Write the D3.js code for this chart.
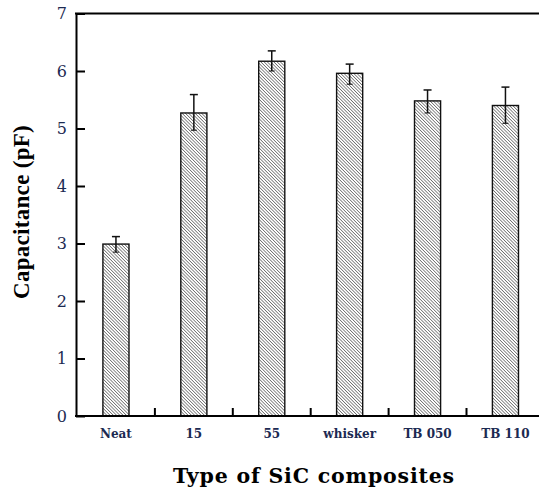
<!DOCTYPE html>
<html>
<head>
<meta charset="utf-8">
<script src="https://cdn.jsdelivr.net/npm/d3@7"></script>
<style>
  html, body { margin: 0; padding: 0; background: #fff; }
  svg { display: block; }
</style>
</head>
<body>
<svg id="chart" width="539" height="491"></svg>
<script>
// Capacitance of SiC composite types, mean with error range
const categories = ["Neat", "15", "55", "whisker", "TB 050", "TB 110"];
const capacitance = [2.99, 5.27, 6.17, 5.96, 5.48, 5.40];
const errLow = [2.85, 4.97, 6.00, 5.77, 5.27, 5.09];
const errHigh = [3.12, 5.59, 6.35, 6.12, 5.67, 5.72];
const yTicks = [0, 1, 2, 3, 4, 5, 6, 7];

const svg = d3.select("#chart");
const plotLeft = 76, plotTop = 13.5, plotBottom = 416, step = 77.9;

const x = d3.scaleBand()
  .domain(categories)
  .range([plotLeft + 1, plotLeft + 1 + step * categories.length])
  .paddingInner(0.665)
  .paddingOuter(0.3325);

const y = d3.scaleLinear().domain([0, 7]).range([plotBottom, plotTop]);

// diagonal hatch fill
const defs = svg.append("defs");
const pat = defs.append("pattern")
  .attr("id", "hatch")
  .attr("patternUnits", "userSpaceOnUse")
  .attr("width", 2.3).attr("height", 2.3)
  .attr("patternTransform", "rotate(-45)");
pat.append("rect").attr("width", 2.3).attr("height", 2.3).attr("fill", "#fff");
pat.append("line")
  .attr("x1", 0).attr("y1", 0).attr("x2", 0).attr("y2", 2.3)
  .attr("stroke", "#333").attr("stroke-width", 1.1);

// bars
svg.append("g").selectAll("rect")
  .data(categories)
  .join("rect")
  .attr("x", d => x(d))
  .attr("y", (d, i) => y(capacitance[i]))
  .attr("width", x.bandwidth())
  .attr("height", (d, i) => y(0) - y(capacitance[i]))
  .attr("fill", "url(#hatch)")
  .attr("stroke", "#111")
  .attr("stroke-width", 1.4);

// error bars
const eb = svg.append("g").attr("stroke", "#111").attr("stroke-width", 1.5);
categories.forEach((c, i) => {
  const cx = x(c) + x.bandwidth() / 2;
  eb.append("line").attr("x1", cx).attr("x2", cx)
    .attr("y1", y(errLow[i])).attr("y2", y(errHigh[i]));
  eb.append("line").attr("x1", cx - 4).attr("x2", cx + 4)
    .attr("y1", y(errHigh[i])).attr("y2", y(errHigh[i]));
  eb.append("line").attr("x1", cx - 3).attr("x2", cx + 3)
    .attr("y1", y(errLow[i])).attr("y2", y(errLow[i])).attr("stroke-width", 1);
});

// y axis with inward ticks
const yAxis = d3.axisLeft(y).tickValues(yTicks).tickFormat(d3.format("d"))
  .tickSizeInner(-9).tickSizeOuter(0).tickPadding(9);
const gy = svg.append("g").attr("transform", `translate(${plotLeft},0)`).call(yAxis);
gy.select(".domain").attr("stroke", "#000").attr("stroke-width", 2);
gy.selectAll(".tick line").attr("stroke", "#000").attr("stroke-width", 2);
gy.selectAll(".tick text")
  .attr("font-family", "DejaVu Serif, serif")
  .attr("font-size", 16)
  .attr("fill", "#1c2a52");

// x axis: tick marks between categories, pointing inward
const gx = svg.append("g").attr("transform", `translate(0,${plotBottom})`);
gx.append("line").attr("x1", plotLeft - 1).attr("x2", 539)
  .attr("y1", 0).attr("y2", 0).attr("stroke", "#000").attr("stroke-width", 2);
categories.slice(1).forEach(c => {
  const tx = x(c) - x.step() * x.paddingInner() / 2;
  gx.append("line").attr("x1", tx).attr("x2", tx).attr("y1", 0).attr("y2", -8)
    .attr("stroke", "#000").attr("stroke-width", 2);
});
gx.selectAll("text.cat")
  .data(categories)
  .join("text")
  .attr("class", "cat")
  .attr("x", d => x(d) + x.bandwidth() / 2)
  .attr("y", 22)
  .attr("text-anchor", "middle")
  .attr("font-family", "DejaVu Serif, serif")
  .attr("font-weight", "bold")
  .attr("font-size", 12)
  .attr("fill", "#1c2a52")
  .text(d => d);

// top frame line
svg.append("line").attr("x1", plotLeft - 1).attr("x2", 539)
  .attr("y1", plotTop).attr("y2", plotTop).attr("stroke", "#000").attr("stroke-width", 2);

// axis titles
svg.append("text")
  .attr("x", 314).attr("y", 483)
  .attr("text-anchor", "middle")
  .attr("font-family", "DejaVu Serif, serif")
  .attr("font-weight", "bold")
  .attr("font-size", 20.5)
  .attr("letter-spacing", 0.8)
  .attr("fill", "#000")
  .text("Type of SiC composites");

svg.append("text")
  .attr("transform", "translate(29,212) rotate(-90)")
  .attr("text-anchor", "middle")
  .attr("font-family", "Liberation Serif, serif")
  .attr("font-weight", "bold")
  .attr("font-size", 23)
  .attr("letter-spacing", 0.3)
  .attr("fill", "#000")
  .text("Capacitance (pF)");
</script>
</body>
</html>
